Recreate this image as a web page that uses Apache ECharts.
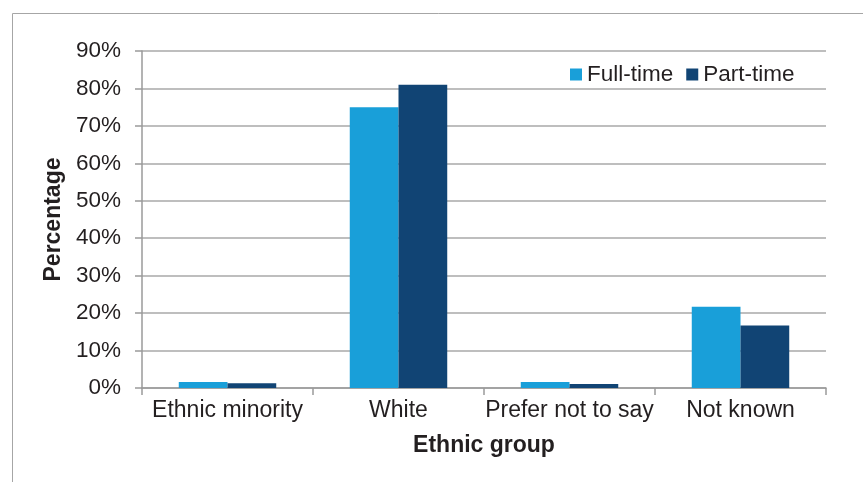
<!DOCTYPE html>
<html>
<head>
<meta charset="utf-8">
<title>Ethnic group</title>
<script src="https://cdn.jsdelivr.net/npm/echarts@6/dist/echarts.min.js"></script>
<style>
  html, body { margin: 0; padding: 0; background: #fff; }
  #chart { width: 863px; height: 482px; }
</style>
</head>
<body>
<div id="chart"></div>
<script>
// data (percent)
var categories = ['Ethnic minority', 'White', 'Prefer not to say', 'Not known']
var fullTime = [1.6, 75, 1.6, 21.7]
var partTime = [1.3, 81, 1.1, 16.7]
var seriesNames = ['Full-time', 'Part-time']

var font = 'Arial, "Liberation Sans", sans-serif'
var gridColor = '#a8a8a8'

var chart = echarts.init(document.getElementById('chart'))
var options = {
  animation: false,
  color: ['#199fd9', '#114474'],
  textStyle: { fontFamily: font },
  // outer frame of the chart, runs off the right and bottom edge
  graphic: [{
    type: 'rect',
    shape: { x: 12.5, y: 13.5, width: 900, height: 500 },
    style: { fill: 'none', stroke: '#a6a6a6', lineWidth: 1 },
    silent: true
  }],
  grid: {
    left: 142,
    right: 37,
    top: 51,
    bottom: 94
  },
  legend: {
    left: 565,
    top: 58,
    icon: 'rect',
    itemWidth: 12,
    itemHeight: 12,
    itemGap: 13,
    textStyle: { fontSize: 22.5, color: '#231f20', fontFamily: font },
    data: seriesNames
  },
  xAxis: [{
    type: 'category',
    data: categories,
    name: 'Ethnic group',
    nameLocation: 'middle',
    nameGap: 46,
    nameTextStyle: { fontSize: 23, fontWeight: 'bold', color: '#231f20' },
    axisLine: { lineStyle: { color: '#9a9a9a', width: 1.5 } },
    axisTick: { show: true, length: 7, lineStyle: { color: '#9a9a9a', width: 1.5 } },
    axisLabel: { fontSize: 23, color: '#231f20', margin: 11, interval: 0 }
  }],
  yAxis: [{
    type: 'value',
    min: 0,
    max: 90,
    interval: 10,
    name: 'Percentage',
    nameLocation: 'middle',
    nameGap: 77,
    nameMoveOverlap: false,
    nameTextStyle: { fontSize: 23, fontWeight: 'bold', color: '#231f20' },
    axisLine: { show: true, lineStyle: { color: '#9a9a9a', width: 1.5 } },
    axisTick: { show: true, length: 7, lineStyle: { color: '#9a9a9a', width: 1.5 } },
    axisLabel: { fontSize: 22.5, color: '#231f20', margin: 21, formatter: '{value}%' },
    splitLine: { lineStyle: { color: gridColor, width: 1.5 } }
  }],
  series: [{
    name: seriesNames[0],
    type: 'bar',
    barGap: '0%',
    barCategoryGap: '43%',
    data: fullTime
  }, {
    name: seriesNames[1],
    type: 'bar',
    data: partTime
  }]
}
chart.setOption(options)
</script>
</body>
</html>
